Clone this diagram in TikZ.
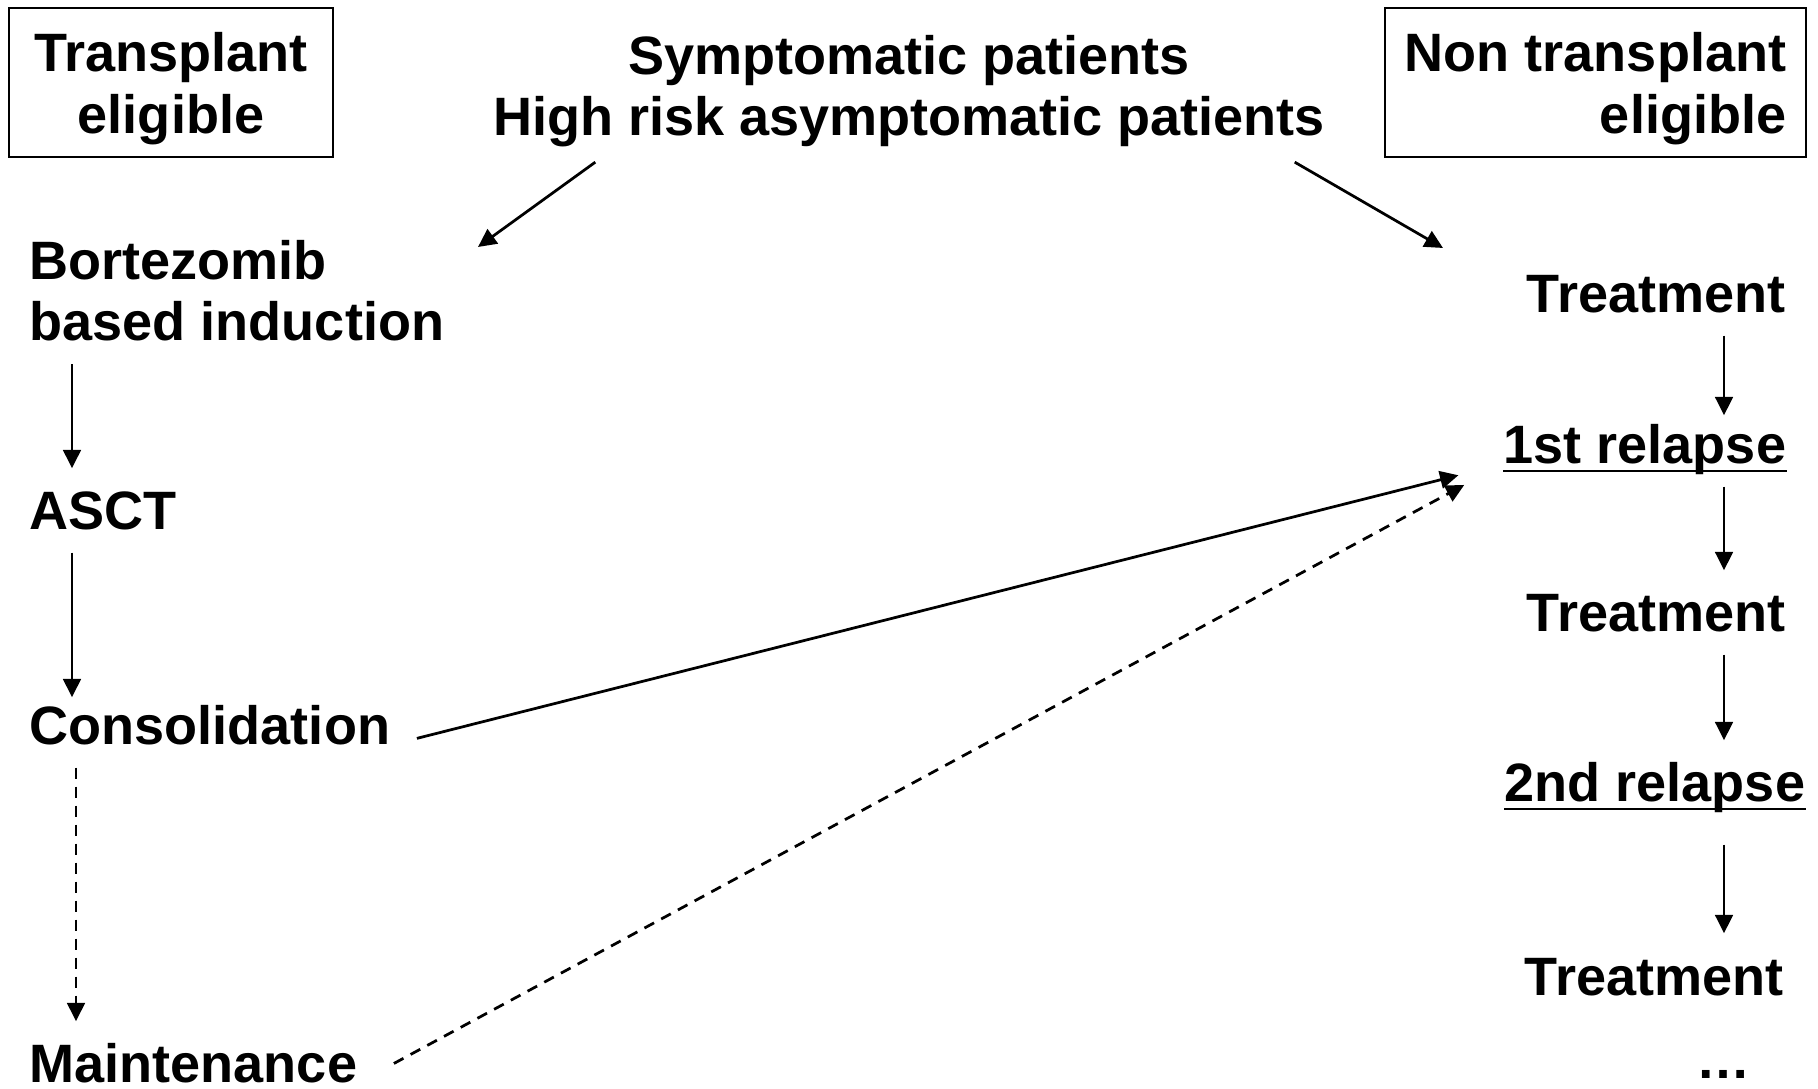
\documentclass[tikz,border=0pt]{standalone}
\usepackage{fontspec}
\setmainfont{Liberation Sans}
\usetikzlibrary{arrows.meta,positioning}

\tikzset{
  lbl/.style={inner sep=0pt, font=\bfseries\fontsize{15.37pt}{17.6pt}\selectfont},
  stage/.style={lbl, text height=0.61cm, text depth=0.22cm},
  elig/.style={lbl, draw, line width=0.6pt, minimum width=3.24cm, minimum height=1.49cm},
  arr/.style={line width=0.78pt, -{Triangle[length=5.2pt,width=5pt]}},
  darr/.style={arr, dash pattern=on 3.1pt off 2.3pt},
  uline/.style={line width=0.75pt},
}

\begin{document}
\begin{tikzpicture}[x=0.01cm,y=-0.01cm]
  \path[fill=white,use as bounding box] (0,0) rectangle (1818,1089);

  % headers
  \node[elig, align=center] (te) at (171,82.5) {\rule{0pt}{0.52cm}Transplant\\eligible};
  \node[elig, align=right, minimum width=4.21cm] (nte) at (1595.5,82.5) {\rule{0pt}{0.52cm}Non transplant\\eligible};
  \node[lbl, align=center, anchor=base] (sympt) at (909,136) {Symptomatic patients\\High risk asymptomatic patients};

  % transplant eligible
  \node[lbl, align=left, anchor=base west] (induct) at (29,341) {Bortezomib\\based induction};
  \node[stage, anchor=base west] (asct) at (29,530) {ASCT};
  \node[stage, anchor=base west] (cons) at (29,745) {Consolidation};
  \node[stage, anchor=base west] (maint) at (29,1083) {Maintenance};

  % non transplant eligible
  \node[stage, anchor=base east] (treat1) at (1786,313) {Treatment};
  \node[stage, anchor=base west] (rel1) at (1503,464) {1st relapse};
  \node[stage, anchor=base east] (treat2) at (1786,632) {Treatment};
  \node[stage, anchor=base west] (rel2) at (1504,802) {2nd relapse};
  \node[stage, anchor=base east] (treat3) at (1784,995) {Treatment};
  \node[lbl, anchor=base] (more) at (1724,1078) {\ldots};

  \draw[uline] ([yshift=-0.07cm]rel1.base west) -- ([yshift=-0.07cm]rel1.base east);
  \draw[uline] ([yshift=-0.07cm]rel2.base west) -- ([yshift=-0.07cm]rel2.base east);

  \coordinate (lcol) at (72,0);
  \coordinate (rcol) at (1724,0);
  \coordinate (tleft) at (478,247);
  \coordinate (tright) at (1443,248);

  % arrows
  \draw[arr] ([shift={(103,14)}]sympt.south west) -- (tleft);
  \draw[arr] ([shift={(-31,14)}]sympt.south east) -- (tright);

  \draw[arr, shorten <=0.22cm] (induct.south -| lcol) -- (asct.north -| lcol);
  \draw[arr, shorten >=-0.14cm] (asct.south -| lcol) -- (cons.north -| lcol);
  \draw[darr] ([xshift=0.04cm]cons.south -| lcol) -- ([xshift=0.04cm]maint.north -| lcol);

  \draw[arr, shorten >=-0.13cm] (treat1.south -| rcol) -- (rel1.north -| rcol);
  \draw[arr] (rel1.south -| rcol) -- (treat2.north -| rcol);
  \draw[arr] (treat2.south -| rcol) -- (rel2.north -| rcol);
  \draw[arr, shorten <=0.2cm] (rel2.south -| rcol) -- (treat3.north -| rcol);

  \draw[arr, shorten <=0.27cm, shorten >=0.46cm] (cons.base east) -- (rel1.base west);
  \draw[darr, shorten <=0.41cm, shorten >=0.44cm] (maint.base east) -- (rel1.base west);
\end{tikzpicture}
\end{document}
